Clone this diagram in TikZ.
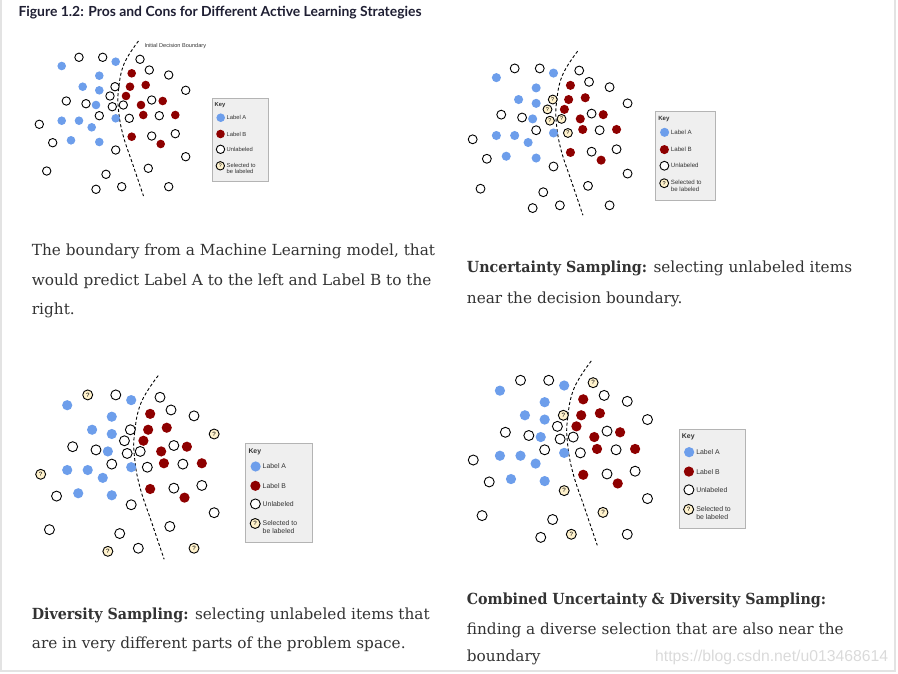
\documentclass[tikz,border=0pt]{standalone}
\usepackage{fontspec}
\setmainfont{DejaVu Serif}[BoldFeatures={FakeStretch=0.93}]
\newfontfamily\titlefont{Lato}
\newfontfamily\keyfont{Liberation Sans}
\usetikzlibrary{positioning, calc}
\definecolor{labela}{HTML}{6D9EEB}
\definecolor{labelb}{HTML}{8E0000}
\definecolor{pickfill}{HTML}{FFF2CC}
\definecolor{keygray}{HTML}{EFEFEF}
\definecolor{keyline}{HTML}{B4B4B4}
\definecolor{textdark}{HTML}{333333}
\definecolor{titledark}{HTML}{1F1F33}
\definecolor{framegray}{HTML}{E3E3E3}
\definecolor{markgray}{HTML}{DADADA}

% one panel, in pixels of the first panel
% #1 = bit of the panel in the tags of the unlabeled points (1, 2, 4; 8 picks none)
\newcommand\drawpanel[1]{%
  \draw[boundary] plot[smooth, tension=0.7] coordinates {(138.5,41) (124,64) (118.5,90) (118.5,110) (123,135) (133,165) (143.5,196)};
  \foreach \px/\py in {61.7/66, 115.7/61.7, 99.3/75.7, 82.7/86.7, 99.3/90.3, 96/105, 61.7/120.7, 79/120.7, 91.7/127.3, 115.7/118.3, 71/140.3, 99.3/142}
    \fill[labela] (\px,\py) circle[radius=4.3];
  \foreach \px/\py in {131.7/73.3, 130/86.7, 145.7/85, 126/96, 141/105, 162.7/101, 143.3/115, 175.3/115, 131.7/136.7, 160.7/144}
    \fill[labelb] (\px,\py) circle[radius=4.3];
  \foreach \px/\py/\tg in {79/57.3/2, 102.7/57.3/0, 140/59.3/4, 149.3/70/0, 168.7/75/0, 185.7/90.3/2, 115/86.7/5, 110/96/1, 66.3/101/0, 86/103.7/0, 112.3/106.7/1, 123.3/105/1, 151.7/100/0, 99.3/115.7/0, 129.3/118.3/1, 159.3/115.7/0, 39.3/124.3/2, 52.7/142.7/0, 151.7/136/0, 175.3/133.7/0, 115.7/150/4, 185.7/156.7/0, 46.7/171/0, 106/174.3/0, 148.3/168.3/4, 121.7/186.7/4, 96/189.3/2, 168.7/186.7/2} {
    \pgfmathtruncatemacro\picked{mod(floor(\tg/#1),2)}
    \ifnum\picked=1
      \draw[pickdot] (\px,\py) circle[radius=4.2] node[qmark] {?};
    \else
      \draw[plaindot] (\px,\py) circle[radius=4.2];
    \fi}
  \node[keybox] (key#1) at (240.3,140) {};
  \node[keytext, font=\keyfont\bfseries\fontsize{5.8}{6.6}\selectfont] (keytitle#1) at (214.5,105) {Key};
  \fill[labela] (220.7,117.7) circle[radius=4.3];
  \node[keytext] (keya#1) at (226.5,117.7) {Label A};
  \fill[labelb] (220.5,134) circle[radius=4.3];
  \node[keytext] (keyb#1) at (226.5,134) {Label B};
  \draw[plaindot] (220.5,149.3) circle[radius=4.2];
  \node[keytext] (keyu#1) at (226.5,149.3) {Unlabeled};
  \draw[pickdot] (220.3,165.8) circle[radius=4.2] node[qmark] {?};
  \node[keytext, align=left] (keys#1) at (226.5,168.6) {Selected to\\be labeled};
}

\begin{document}
\begin{tikzpicture}[x=1pt, y=-1pt,
  boundary/.style={line width=0.9pt, dash pattern=on 3pt off 2.2pt},
  plaindot/.style={draw=black, fill=white, line width=0.9pt},
  pickdot/.style={draw=black, fill=pickfill, line width=0.9pt},
  qmark/.style={font=\keyfont\fontsize{5.2}{5.2}\selectfont, text=black, inner sep=0},
  keybox/.style={draw=keyline, fill=keygray, line width=0.8pt, minimum width=56, minimum height=83.4, inner sep=0},
  keytext/.style={font=\keyfont\fontsize{5.8}{6.6}\selectfont, text=textdark, anchor=west, inner sep=0},
  caption/.style={font=\fontsize{15.3}{18}\selectfont, text=textdark, anchor=base west, inner sep=0}]

\useasboundingbox (0,0) rectangle (898,673);
\draw[framegray, line width=2pt] (1,0) -- (1,671) -- (895,671) -- (895,0);

\node[font=\titlefont\bfseries\fontsize{13.9}{16}\selectfont, text=titledark, anchor=base west, inner sep=0] (title) at (18.3,16.7) {Figure 1.2: Pros and Cons for Different Active Learning Strategies};

\begin{scope}
  \drawpanel{8}
  \node[keytext, font=\keyfont\fontsize{5.6}{6.4}\selectfont] (initlabel) at (144.3,45.7) {Initial Decision Boundary};
\end{scope}
\begin{scope}[shift={(431.1,7.8)}, scale=1.058, transform shape]
  \drawpanel{1}
\end{scope}
\begin{scope}[shift={(-5.9,327)}, scale=1.185, transform shape]
  \drawpanel{2}
\end{scope}
\begin{scope}[shift={(426.5,312.1)}, scale=1.19, transform shape]
  \drawpanel{4}
\end{scope}

\node[caption] (capa1) at (31.7,255) {The boundary from a Machine Learning model, that};
\node[caption] (capa2) at (31.7,285) {would predict Label A to the left and Label B to the};
\node[caption] (capa3) at (31.7,314) {right.};

\node[caption] (capb1) at (466.7,272.7) {\textbf{Uncertainty Sampling:} selecting unlabeled items};
\node[caption] (capb2) at (466.7,303.3) {near the decision boundary.};

\node[caption] (capc1) at (31.7,619.3) {\textbf{Diversity Sampling:} selecting unlabeled items that};
\node[caption] (capc2) at (31.7,648.3) {are in very different parts of the problem space.};

\node[caption] (capd1) at (466.7,604) {\textbf{Combined Uncertainty \& Diversity Sampling:}};
\node[caption] (capd2) at (466.7,634) {finding a diverse selection that are also near the};
\node[caption] (capd3) at (466.7,661.7) {boundary};

\node[font=\keyfont\fontsize{15.75}{18}\selectfont, text=markgray, anchor=base east, inner sep=0] (mark) at (888.3,661.7) {https://blog.csdn.net/u013468614};
\end{tikzpicture}
\end{document}
